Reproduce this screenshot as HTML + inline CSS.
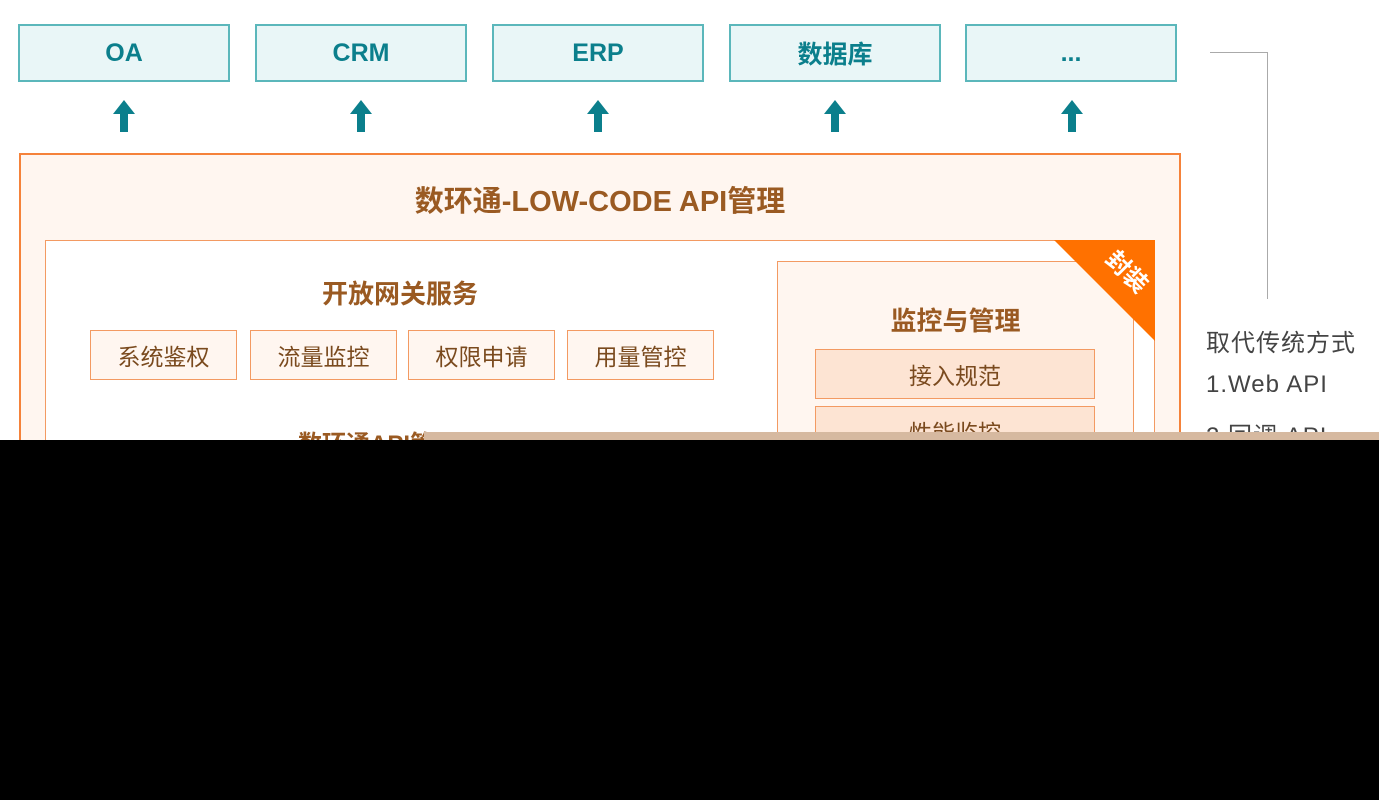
<!DOCTYPE html>
<html><head><meta charset="utf-8"><style>
body{margin:0;width:1379px;height:800px;background:#000;position:relative;overflow:hidden;font-family:"Liberation Sans","Noto Sans CJK SC",sans-serif}
.a{position:absolute;box-sizing:border-box}
.top{background:#e9f6f7;border:2px solid #5bb7bb;color:#0b7f8c;font-weight:bold;font-size:25px;display:flex;align-items:center;justify-content:center;top:24px;height:58px;width:212px}
.arr{position:absolute;top:100px;width:0;height:0;border-left:11px solid transparent;border-right:11px solid transparent;border-bottom:14px solid #0b7f8c}
.stem{position:absolute;top:112px;width:8px;height:20px;background:#0b7f8c}
.tag{border:1.5px solid #f39a62;background:#fff6f0;color:#7a4a1e;font-size:23px;display:flex;align-items:center;justify-content:center;top:330px;height:50px;width:147px}
.mon{border:1.5px solid #f39a62;background:#fde4d3;color:#7a4a1e;font-size:23px;display:flex;align-items:center;justify-content:center;left:815px;width:280px;height:50px}
.h{color:#9a5a22;font-weight:bold;position:absolute;text-align:center}
.rt{position:absolute;left:1206px;color:#444;font-size:24px;letter-spacing:1px}
</style></head><body>
<div class="a" style="left:0;top:0;width:1379px;height:440px;background:#fff"></div>
<div class="a top" style="left:18px">OA</div>
<div class="a top" style="left:255px">CRM</div>
<div class="a top" style="left:492px">ERP</div>
<div class="a top" style="left:729px">数据库</div>
<div class="a top" style="left:965px">...</div>
<div class="arr" style="left:113px"></div><div class="stem" style="left:120px"></div>
<div class="arr" style="left:350px"></div><div class="stem" style="left:357px"></div>
<div class="arr" style="left:587px"></div><div class="stem" style="left:594px"></div>
<div class="arr" style="left:824px"></div><div class="stem" style="left:831px"></div>
<div class="arr" style="left:1061px"></div><div class="stem" style="left:1068px"></div>
<div class="a" style="left:1210px;top:52px;width:58px;height:247px;border-top:1.5px solid #aaa;border-right:1.5px solid #aaa"></div>
<div class="rt" style="top:323px">取代传统方式</div>
<div class="rt" style="top:371px">1.Web API</div>
<div class="rt" style="top:416px">2.回调 API</div>
<div class="a" style="left:19px;top:153px;width:1162px;height:300px;border:2px solid #f5823a;background:#fff6f0"></div>
<div class="h" style="left:19px;width:1162px;top:178px;font-size:29px">数环通-LOW-CODE API管理</div>
<div class="a" style="left:45px;top:240px;width:1110px;height:220px;border:1.5px solid #f39a62;background:#fff"></div>
<div class="a" style="left:777px;top:261px;width:357px;height:200px;border:1.5px solid #f39a62;background:#fff6f0"></div>
<svg class="a" style="left:1054px;top:240px" width="101" height="101"><polygon points="0,0 101,0 101,101" fill="#ff7100"/><text x="72" y="38" fill="#fff" font-size="24" font-weight="bold" text-anchor="middle" transform="rotate(45 70 32)" font-family="Noto Sans CJK SC">封装</text></svg>
<div class="h" style="left:45px;width:710px;top:274px;font-size:26px">开放网关服务</div>
<div class="h" style="left:777px;width:357px;top:301px;font-size:26px">监控与管理</div>
<div class="a tag" style="left:90px">系统鉴权</div>
<div class="a tag" style="left:250px">流量监控</div>
<div class="a tag" style="left:408px">权限申请</div>
<div class="a tag" style="left:567px">用量管控</div>
<div class="a mon" style="top:349px">接入规范</div>
<div class="a mon" style="top:406px">性能监控</div>
<div class="h" style="left:298px;top:424px;font-size:24px">数环通API管</div>
<div class="a" style="left:424px;top:432px;width:955px;height:8px;background:#d6b9a0"></div>
<div class="a" style="left:0;top:440px;width:1379px;height:360px;background:#000"></div>
</body></html>
